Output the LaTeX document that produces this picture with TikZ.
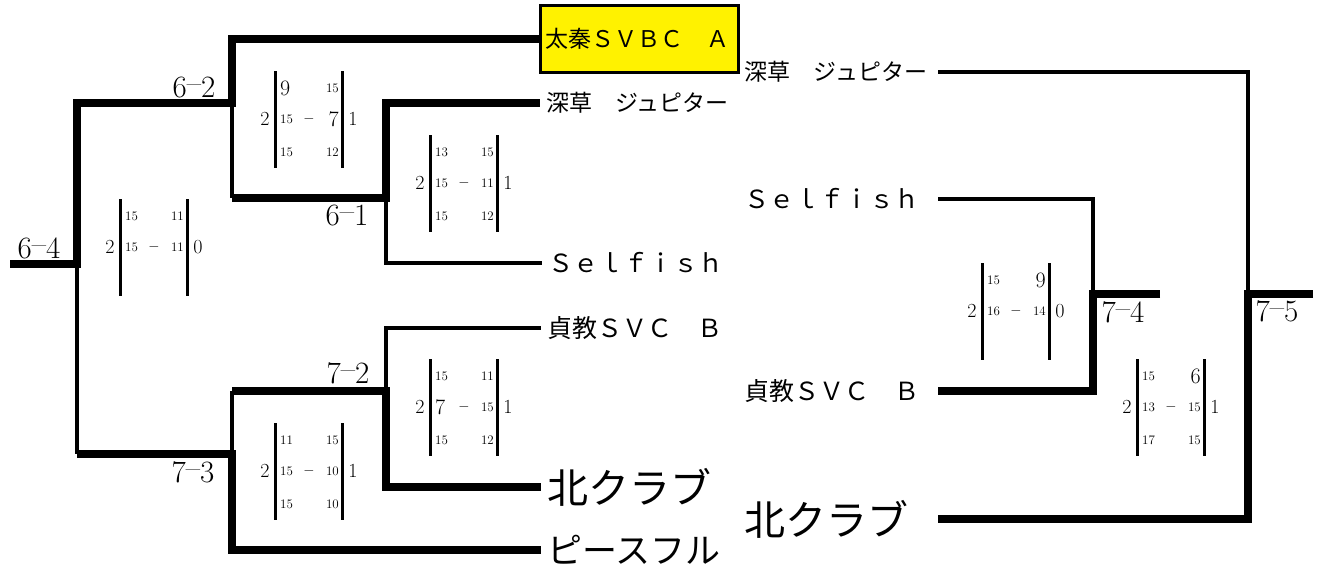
\documentclass[tikz,border=0pt]{standalone}
\usepackage{fontspec}
\newfontfamily\jp{Noto Sans CJK JP}
\usetikzlibrary{calc}

\tikzset{
  win/.style={line width=7.5pt},
  lose/.style={line width=3.5pt},
  bar/.style={line width=3pt},
  team/.style={anchor=west, inner xsep=6pt, inner ysep=0pt, font=\jp\fontsize{23}{23}\selectfont},
  rteam/.style={team, anchor=east, text width=187pt, align=left},
  mid/.style={font=\jp\fontsize{25}{25}\selectfont},
  big/.style={font=\jp\fontsize{41}{41}\selectfont},
  res/.style={inner sep=0pt, anchor=base, font=\fontsize{31}{31}\selectfont},
  pts/.style={inner sep=0pt, font=\fontsize{13}{13}\selectfont},
  sets/.style={inner sep=0pt, font=\fontsize{20}{20}\selectfont}
}
\newcommand{\bg}[1]{{\fontsize{22}{22}\selectfont #1}}
\newcommand{\rs}[2]{#1\raisebox{.1em}{--}#2}
% score table: origin, six points, two set counts
\newcommand{\scores}[9]{%
  \begin{scope}[shift={(#1)}]
    \draw[bar] (0,0) -- (0,97);
    \draw[bar] (67,0) -- (67,97);
    \node[sets] (#1-l) at (-10,48) {#8};
    \node[sets] (#1-r) at (78,48) {#9};
    \node[pts, anchor=west] (#1-a) at (5,17) {#2};
    \node[pts, anchor=east] (#1-b) at (64,17) {#3};
    \node[pts, anchor=west] (#1-c) at (5,48) {#4};
    \node[pts] (#1-d) at (34,48) {\fontsize{15}{15}\selectfont$-$};
    \node[pts, anchor=east] (#1-e) at (64,48) {#5};
    \if\relax\detokenize{#6}\relax\else
      \node[pts, anchor=west] (#1-f) at (5,81) {#6};
      \node[pts, anchor=east] (#1-g) at (64,81) {#7};
    \fi
  \end{scope}}

\begin{document}
\begin{tikzpicture}[x=1pt, y=-1pt, line join=miter]
  \useasboundingbox (0,0) rectangle (1324,570);

  % teams, first round
  \node[team, draw, fill=yellow, line width=2.5pt, minimum height=67pt,
        text width=188pt, inner xsep=5pt] (t1) at (539,39) {太秦ＳＶＢＣ　Ａ};
  \node[team] (t2) at (540,103) {深草　ジュピター};
  \node[team, mid] (t3) at (542,263) {Ｓｅｌｆｉｓｈ};
  \node[team, mid] (t4) at (541,328) {貞教ＳＶＣ　Ｂ};
  \node[team, big] (t5) at (541,487) {北クラブ};
  \node[team, font=\jp\fontsize{35}{35}\selectfont] (t6) at (541,550) {ピースフル};

  % teams, second bracket
  \node[rteam] (r1) at (938,72) {深草　ジュピター};
  \node[rteam, mid] (r2) at (938,199) {Ｓｅｌｆｉｓｈ};
  \node[rteam, mid] (r3) at (938,391) {貞教ＳＶＣ　Ｂ};
  \node[rteam, big] (r4) at (938,519) {北クラブ};

  \coordinate (s64) at (10,264);
  \coordinate (j64) at (77,264);
  \coordinate (j62) at (232,103);
  \coordinate (j73) at (232,454);
  \coordinate (j61) at (386,198);
  \coordinate (j72) at (386,391);
  \coordinate (j74) at (1093,294);
  \coordinate (s74) at (1160,294);
  \coordinate (j75) at (1248,294);
  \coordinate (s75) at (1313,294);

  % losing sides
  \draw[lose] (j64) -- (j64 |- j73);
  \draw[lose] (j62) -- (j62 |- j61);
  \draw[lose] (j61) |- (t3.west);
  \draw[lose] (j73) -- (j73 |- j72);
  \draw[lose] (j72) |- (t4.west);
  \draw[lose] (r1.east) -| (j75);
  \draw[lose] (r2.east) -| (j74);

  % winning sides
  \draw[win] (s64) -- (j64) |- (j62) |- (t1.west);
  \draw[win] (j64 |- j73) -- (j73) |- (t6.west);
  \draw[win] (j62 |- j61) -- (j61) |- (t2.west);
  \draw[win] (j73 |- j72) -- (j72) |- (t5.west);
  \draw[win] (s74) -- (j74) |- (r3.east);
  \draw[win] (s75) -- (j75) |- (r4.east);

  % match numbers
  \node[res] (l64) at (39,258) {\rs{6}{4}};
  \node[res] (l62) at (194,97) {\rs{6}{2}};
  \node[res] (l61) at (347,225) {\rs{6}{1}};
  \node[res] (l72) at (348,383) {\rs{7}{2}};
  \node[res] (l73) at (193,482) {\rs{7}{3}};
  \node[res] (l74) at (1123,322) {\rs{7}{4}};
  \node[res] (l75) at (1277,321) {\rs{7}{5}};

  % scores
  \coordinate (m62) at (275,71);
  \coordinate (m61) at (430,135);
  \coordinate (m64) at (120,199);
  \coordinate (m72) at (430,359);
  \coordinate (m73) at (275,423);
  \coordinate (m74) at (982,263);
  \coordinate (m75) at (1137,359);
  \scores{m62}{\bg{9}}{15}{15}{\bg{7}}{15}{12}{2}{1}
  \scores{m61}{13}{15}{15}{11}{15}{12}{2}{1}
  \scores{m64}{15}{11}{15}{11}{}{}{2}{0}
  \scores{m72}{15}{11}{\bg{7}}{15}{15}{12}{2}{1}
  \scores{m73}{11}{15}{15}{10}{15}{10}{2}{1}
  \scores{m74}{15}{\bg{9}}{16}{14}{}{}{2}{0}
  \scores{m75}{15}{\bg{6}}{13}{15}{17}{15}{2}{1}
\end{tikzpicture}
\end{document}
